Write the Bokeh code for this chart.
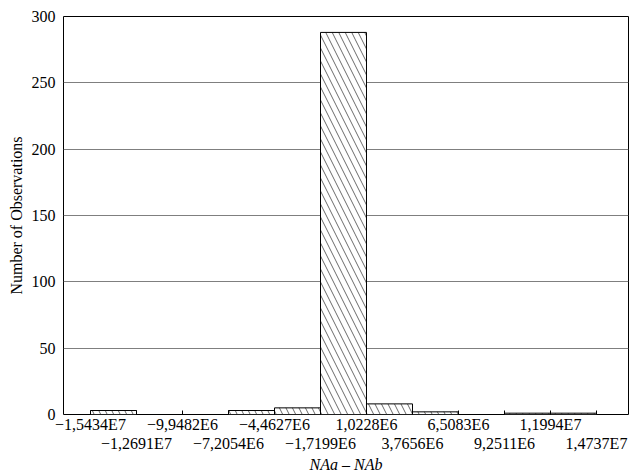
from bokeh.plotting import figure
from bokeh.models import FixedTicker, LinearAxis, Range1d
from bokeh.embed import file_html
from bokeh.resources import INLINE

# Bin edges (tick values) and their labels
edges = [-15434000, -12691000, -9948200, -7205400, -4462700, -1719900,
         1022800, 3765600, 6508300, 9251100, 11994000, 14737000]
edge_labels = ["−1,5434E7", "−1,2691E7", "−9,9482E6", "−7,2054E6", "−4,4627E6",
               "−1,7199E6", "1,0228E6", "3,7656E6", "6,5083E6", "9,2511E6",
               "1,1994E7", "1,4737E7"]
# Observation counts per bin
counts = [3, 0, 0, 3, 5, 288, 8, 2, 0, 1, 1]
y_ticks = [0, 50, 100, 150, 200, 250, 300]

FONT = "Liberation Serif"
FS = "16px"

p = figure(width=634, height=475, output_backend="svg", toolbar_location=None,
           x_range=Range1d(-17044000, 16645000), y_range=Range1d(0, 300),
           min_border_left=63, min_border_right=6, min_border_top=16, min_border_bottom=60)

p.outline_line_color = "black"
p.outline_line_width = 1
p.background_fill_color = "white"
p.border_fill_color = "white"

p.quad(left=edges[:-1], right=edges[1:], top=counts, bottom=0,
       fill_color="white", line_color="black", line_width=1,
       hatch_pattern="\\", hatch_color="#444444", hatch_weight=0.8, hatch_scale=13)

# grid
p.xgrid.visible = False
p.ygrid.ticker = FixedTicker(ticks=y_ticks)
p.ygrid.grid_line_color = "#7f7f7f"
p.ygrid.grid_line_width = 1

# y axis
ya = p.yaxis[0]
ya.ticker = FixedTicker(ticks=y_ticks)
ya.axis_line_color = None
ya.major_tick_line_color = None
ya.minor_tick_line_color = None
ya.major_tick_in = 0
ya.major_tick_out = 0
ya.major_label_text_font = FONT
ya.major_label_text_font_size = FS
ya.major_label_text_color = "black"
ya.major_label_standoff = 8
ya.axis_label = "Number of Observations"
ya.axis_label_text_font = FONT
ya.axis_label_text_font_size = FS
ya.axis_label_text_font_style = "normal"
ya.axis_label_text_color = "black"
ya.axis_label_standoff = 4

# x axis row 1
xa = p.xaxis[0]
xa.ticker = FixedTicker(ticks=edges)
overrides = {}
for i, (e, lab) in enumerate(zip(edges, edge_labels)):
    overrides[e] = lab if i % 2 == 0 else ""
xa.major_label_overrides = overrides
xa.axis_line_color = None
xa.major_tick_in = 4
xa.major_tick_out = 0
xa.major_tick_line_color = "black"
xa.minor_tick_line_color = None
xa.major_label_text_font = FONT
xa.major_label_text_font_size = FS
xa.major_label_text_color = "black"
xa.major_label_standoff = 1

# x axis row 2
row2 = [e for i, e in enumerate(edges) if i % 2 == 1]
xa2 = LinearAxis(ticker=FixedTicker(ticks=row2))
xa2.major_label_overrides = {e: edge_labels[i] for i, e in enumerate(edges) if i % 2 == 1}
xa2.axis_line_color = None
xa2.major_tick_line_color = None
xa2.minor_tick_line_color = None
xa2.major_tick_in = 0
xa2.major_tick_out = 0
xa2.major_label_text_font = FONT
xa2.major_label_text_font_size = FS
xa2.major_label_text_color = "black"
xa2.major_label_standoff = -1
xa2.axis_label = "NAa – NAb"
xa2.axis_label_text_font = FONT
xa2.axis_label_text_font_size = FS
xa2.axis_label_text_font_style = "italic"
xa2.axis_label_text_color = "black"
xa2.axis_label_standoff = 1
p.add_layout(xa2, "below")

open("out.html", "w").write(file_html(p, INLINE))
